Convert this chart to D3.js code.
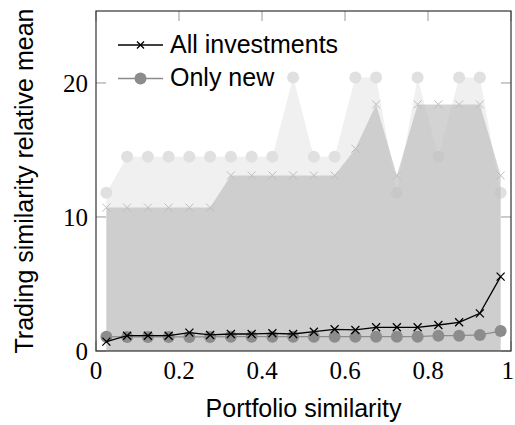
<!DOCTYPE html>
<html>
<head>
<meta charset="utf-8">
<script src="https://cdn.jsdelivr.net/npm/d3@7"></script>
<style>
  body { margin: 0; background: #fff; }
  svg { display: block; }
</style>
</head>
<body>
<div id="chart"></div>
<script>
// Bin centres (portfolio similarity)
const binCenters = [0.025, 0.075, 0.125, 0.175, 0.225, 0.275, 0.325, 0.375, 0.425, 0.475,
                    0.525, 0.575, 0.625, 0.675, 0.725, 0.775, 0.825, 0.875, 0.925, 0.975];
// Upper envelope, only new (light circles)
const newMax = [11.8, 14.5, 14.5, 14.5, 14.5, 14.5, 14.5, 14.5, 14.5, 20.4,
                14.5, 14.5, 20.4, 20.4, 11.8, 20.4, 14.5, 20.4, 20.4, 11.8];
// Upper envelope, all investments (light crosses)
const allMax = [10.7, 10.7, 10.7, 10.7, 10.7, 10.7, 13.1, 13.1, 13.1, 13.1,
                13.1, 13.1, 15.1, 18.4, 13.1, 18.4, 18.4, 18.4, 18.4, 13.1];
// Means
const allMean = [0.7, 1.14, 1.14, 1.14, 1.37, 1.2, 1.27, 1.27, 1.32, 1.27,
                 1.44, 1.62, 1.57, 1.77, 1.77, 1.77, 1.94, 2.14, 2.81, 5.55];
const newMean = [1.07, 1.05, 1.05, 1.05, 1.05, 1.05, 1.07, 1.07, 1.07, 1.07,
                 1.07, 1.07, 1.07, 1.07, 1.07, 1.07, 1.14, 1.14, 1.2, 1.49];
const xTicks = [0, 0.2, 0.4, 0.6, 0.8, 1];
const yTicks = [0, 10, 20];
const seriesNames = ['All investments', 'Only new'];

const fullWidth = 515
const fullHeight = 425
const margin = { left: 96, right: 4, top: 11, bottom: 74 }

const svg = d3.select('#chart')
    .append('svg')
    .attr('width', fullWidth)
    .attr('height', fullHeight);

const x = d3.scaleLinear().domain([0, 1]).range([margin.left, fullWidth - margin.right]);
const y = d3.scaleLinear().domain([0, 25.37]).range([fullHeight - margin.bottom, margin.top]);

const serif = '"Liberation Serif", "DejaVu Serif", serif';
const sans = '"Liberation Sans", Arial, sans-serif';

// ticks (inside, all four sides)
const tickG = svg.append('g').attr('stroke', '#999').attr('stroke-width', 1);
xTicks.forEach(t => {
    tickG.append('line').attr('x1', x(t)).attr('x2', x(t)).attr('y1', y.range()[0]).attr('y2', y.range()[0] - 10);
    tickG.append('line').attr('x1', x(t)).attr('x2', x(t)).attr('y1', y.range()[1]).attr('y2', y.range()[1] + 10);
});
yTicks.forEach(t => {
    tickG.append('line').attr('y1', y(t)).attr('y2', y(t)).attr('x1', x.range()[0]).attr('x2', x.range()[0] + 10);
    tickG.append('line').attr('y1', y(t)).attr('y2', y(t)).attr('x1', x.range()[1]).attr('x2', x.range()[1] - 10);
});

const rows = binCenters.map((c, i) => ({ x: c, newMax: newMax[i], allMax: allMax[i], allMean: allMean[i], newMean: newMean[i] }));

// light area (only new, max)
svg.append('path')
    .datum(rows)
    .attr('fill', '#f0f0f0')
    .attr('d', d3.area().x(d => x(d.x)).y0(y(0)).y1(d => y(d.newMax)));

svg.append('g')
    .selectAll('circle')
    .data(rows)
    .enter()
    .append('circle')
    .attr('cx', d => x(d.x))
    .attr('cy', d => y(d.newMax))
    .attr('r', 6)
    .attr('fill', '#e0e0e0');

// darker area (all investments, max)
svg.append('path')
    .datum(rows)
    .attr('fill', '#bbbbbb')
    .attr('fill-opacity', 0.65)
    .attr('d', d3.area().x(d => x(d.x)).y0(y(0)).y1(d => y(d.allMax)));

const cross = (g, s) => g.append('path').attr('d', `M${-s},${-s}L${s},${s}M${-s},${s}L${s},${-s}`);

svg.append('g')
    .selectAll('g')
    .data(rows)
    .enter()
    .append('g')
    .attr('transform', d => `translate(${x(d.x)},${y(d.allMax)})`)
    .each(function () { cross(d3.select(this), 4).attr('stroke', '#bdbdbd').attr('stroke-width', 1); });

// only new mean
svg.append('path')
    .datum(rows)
    .attr('fill', 'none')
    .attr('stroke', '#8c8c8c')
    .attr('stroke-width', 1.3)
    .attr('d', d3.line().x(d => x(d.x)).y(d => y(d.newMean)));
svg.append('g')
    .selectAll('circle')
    .data(rows)
    .enter()
    .append('circle')
    .attr('cx', d => x(d.x))
    .attr('cy', d => y(d.newMean))
    .attr('r', 6)
    .attr('fill', '#8c8c8c');

// all investments mean
svg.append('path')
    .datum(rows)
    .attr('fill', 'none')
    .attr('stroke', '#000')
    .attr('stroke-width', 1.3)
    .attr('d', d3.line().x(d => x(d.x)).y(d => y(d.allMean)));
svg.append('g')
    .selectAll('g')
    .data(rows)
    .enter()
    .append('g')
    .attr('transform', d => `translate(${x(d.x)},${y(d.allMean)})`)
    .each(function () { cross(d3.select(this), 4).attr('stroke', '#000').attr('stroke-width', 1.3); });

// frame
svg.append('rect')
    .attr('x', x.range()[0])
    .attr('y', y.range()[1])
    .attr('width', x.range()[1] - x.range()[0])
    .attr('height', y.range()[0] - y.range()[1])
    .attr('fill', 'none')
    .attr('stroke', '#333')
    .attr('stroke-width', 1.2);

// tick labels (last one kept inside the page edge)
svg.append('g')
    .selectAll('text')
    .data(xTicks)
    .enter()
    .append('text')
    .attr('x', d => d === 1 ? fullWidth - 1 : x(d))
    .attr('y', 379)
    .attr('text-anchor', d => d === 1 ? 'end' : 'middle')
    .style('font-family', serif)
    .style('font-size', '25px')
    .text(d => d3.format('~g')(d));

svg.append('g')
    .selectAll('text')
    .data(yTicks)
    .enter()
    .append('text')
    .attr('x', 88)
    .attr('y', d => y(d) + 9)
    .attr('text-anchor', 'end')
    .style('font-family', serif)
    .style('font-size', '25px')
    .text(d => d);

// axis labels
svg.append('text')
    .attr('x', (x.range()[0] + x.range()[1]) / 2)
    .attr('y', 417)
    .attr('text-anchor', 'middle')
    .style('font-family', sans)
    .style('font-size', '25px')
    .text('Portfolio similarity');

svg.append('text')
    .attr('transform', `translate(33, ${(y.range()[0] + y.range()[1]) / 2}) rotate(-90)`)
    .attr('text-anchor', 'middle')
    .style('font-family', sans)
    .style('font-size', '25px')
    .text('Trading similarity relative mean');

// legend
const legend = svg.selectAll('.legend')
    .data(seriesNames)
    .enter()
    .append('g')
    .attr('class', 'legend')
    .attr('transform', (d, i) => `translate(118, ${45 + i * 33.5})`);

legend.append('line')
    .attr('x1', 0).attr('x2', 45)
    .attr('stroke', (d, i) => i === 0 ? '#000' : '#8c8c8c')
    .attr('stroke-width', 1.3);

legend.filter((d, i) => i === 0)
    .each(function () { cross(d3.select(this).append('g').attr('transform', 'translate(22.5,0)'), 3.5).attr('stroke', '#000').attr('stroke-width', 1.3); });
legend.filter((d, i) => i === 1)
    .append('circle').attr('cx', 22.5).attr('r', 6).attr('fill', '#8c8c8c');

legend.append('text')
    .attr('x', 52)
    .attr('y', 7.5)
    .style('font-family', sans)
    .style('font-size', '25px')
    .text(d => d);
</script>
</body>
</html>
